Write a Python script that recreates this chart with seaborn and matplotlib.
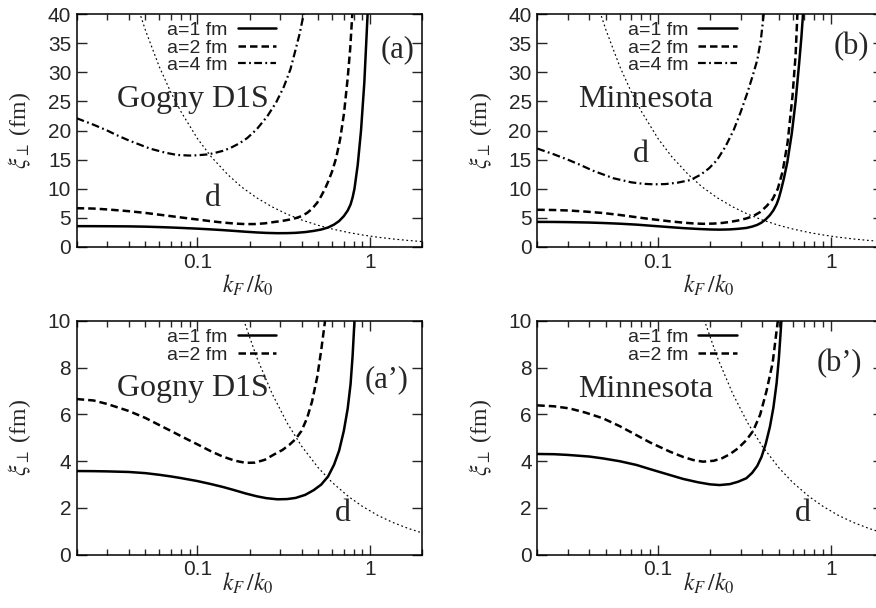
import numpy as np
import pandas as pd
import matplotlib
matplotlib.use("Agg")
import matplotlib.pyplot as plt
import seaborn as sns
from matplotlib.ticker import FixedLocator, FixedFormatter, NullFormatter

# ---------------- data ----------------
# Gogny D1S
g_a1_x = [0.02, 0.025, 0.03, 0.04, 0.05, 0.06, 0.07, 0.08, 0.1, 0.12, 0.14, 0.162, 0.19, 0.22, 0.25,
          0.29, 0.33, 0.37, 0.42, 0.47, 0.52, 0.57, 0.617, 0.66, 0.703, 0.74, 0.769, 0.79, 0.81,
          0.846, 0.884, 0.924, 0.965]
g_a1_y = [3.58, 3.575, 3.565, 3.54, 3.49, 3.42, 3.35, 3.28, 3.15, 3.02, 2.9, 2.77, 2.62, 2.5, 2.42,
          2.37, 2.38, 2.43, 2.56, 2.76, 3.0, 3.35, 3.85, 4.45, 5.3, 6.25, 7.3, 8.5, 10.0,
          14.1, 20.0, 28.3, 40.0]
g_a2_x = [0.02, 0.025, 0.03, 0.04, 0.05, 0.06, 0.07, 0.085, 0.1, 0.12, 0.14, 0.165, 0.19, 0.215, 0.245,
          0.276, 0.31, 0.34, 0.37, 0.4, 0.431, 0.46, 0.493, 0.52, 0.545, 0.57, 0.6, 0.635, 0.67,
          0.705, 0.74, 0.765, 0.787]
g_a2_y = [6.66, 6.6, 6.45, 6.15, 5.85, 5.55, 5.3, 4.98, 4.72, 4.42, 4.2, 4.02, 3.93, 3.94, 4.06,
          4.28, 4.48, 4.7, 4.95, 5.3, 5.85, 6.55, 7.6, 8.75, 9.9, 11.2, 12.9, 15.3, 18.6,
          23.0, 29.0, 34.0, 40.0]
g_a4_x = [0.02, 0.025, 0.03, 0.0341, 0.04, 0.047, 0.053, 0.065, 0.076, 0.09, 0.1, 0.115, 0.124, 0.14,
          0.155, 0.175, 0.194, 0.22, 0.253, 0.285, 0.316, 0.345, 0.369, 0.39, 0.412]
g_a4_y = [22.1, 21.0, 20.0, 19.2, 18.3, 17.5, 16.9, 16.2, 15.8, 15.7, 15.75, 15.9, 16.1, 16.5,
          17.0, 17.8, 18.7, 20.2, 22.4, 24.8, 27.5, 30.5, 33.8, 36.6, 40.0]

# Minnesota
m_a1_x = [0.02, 0.025, 0.03, 0.04, 0.048, 0.06, 0.075, 0.09, 0.117, 0.14, 0.17, 0.2, 0.227, 0.26,
          0.29, 0.324, 0.35, 0.375, 0.397, 0.42, 0.444, 0.465, 0.485, 0.5, 0.515, 0.535, 0.56,
          0.594, 0.625, 0.655, 0.675, 0.69]
m_a1_y = [4.31, 4.3, 4.27, 4.2, 4.12, 4.0, 3.84, 3.66, 3.41, 3.24, 3.1, 3.01, 2.98, 3.02,
          3.12, 3.27, 3.5, 3.8, 4.19, 4.75, 5.48, 6.3, 7.33, 8.4, 9.8, 11.8, 14.6,
          19.5, 25.0, 31.5, 36.0, 40.0]
m_a2_x = [0.02, 0.025, 0.0307, 0.038, 0.0478, 0.06, 0.0748, 0.09, 0.117, 0.14, 0.16, 0.182, 0.21,
          0.235, 0.26, 0.29, 0.324, 0.355, 0.39, 0.424, 0.46, 0.493, 0.526, 0.562, 0.6, 0.625, 0.64]
m_a2_y = [6.39, 6.35, 6.26, 6.08, 5.84, 5.5, 5.12, 4.8, 4.41, 4.18, 4.05, 3.98, 4.02,
          4.13, 4.3, 4.55, 4.9, 5.3, 6.0, 7.0, 8.2, 10.0, 13.0, 18.0, 26.0, 33.0, 40.0]
m_a4_x = [0.02, 0.025, 0.03, 0.0354, 0.042, 0.0552, 0.07, 0.082, 0.094, 0.11, 0.13, 0.154, 0.176,
          0.197, 0.219, 0.245, 0.274, 0.3, 0.328, 0.352, 0.375, 0.393, 0.409]
m_a4_y = [16.9, 15.9, 15.0, 14.1, 13.1, 11.8, 11.1, 10.85, 10.76, 10.8, 11.05, 11.5, 12.4,
          13.5, 14.9, 17.2, 20.1, 23.1, 26.4, 29.3, 32.1, 35.5, 40.0]

# interparticle distance d
d_x = [0.04, 0.045, 0.05, 0.06, 0.07, 0.08, 0.1, 0.12, 0.15, 0.18, 0.22, 0.27, 0.33, 0.4, 0.5, 0.6,
       0.75, 0.9, 1.1, 1.35, 1.65, 2.0]
d_y = [46.5, 41.3, 37.2, 31.0, 26.6, 23.3, 18.6, 15.5, 12.4, 10.3, 8.45, 6.9, 5.64, 4.65, 3.72, 3.1,
       2.48, 2.07, 1.69, 1.38, 1.13, 0.93]

legend_labels = ["a=1 fm", "a=2 fm", "a=4 fm"]
x_tick_values = [0.1, 1]
x_tick_labels = ["0.1", "1"]

# ---------------- style ----------------
sns.set_style("ticks", {"xtick.direction": "in", "ytick.direction": "in"})
plt.rcParams["font.family"] = ["Liberation Sans", "DejaVu Sans"]
plt.rcParams["mathtext.fontset"] = "stix"

W, H = 876, 608
fig = plt.figure(figsize=(W / 100, H / 100), dpi=100)

def add_ax(left_px, top_px, bottom_px, width_px=345.6):
    return fig.add_axes([left_px / W, 1 - bottom_px / H, width_px / W, (bottom_px - top_px) / H])

styles = [
    dict(lw=1.8, linestyle="-"),
    dict(lw=1.8, linestyle=(0, (3.0, 1.6))),
    dict(lw=1.6, linestyle=(0, (3.5, 1.5, 0.8, 1.5))),
]
d_style = dict(lw=0.85, linestyle=(0, (1.5, 2.3)))

def panel(ax, series, ymax, ystep, tag, tagpos, name, namepos, dpos, xlab_off):
    handles = []
    for (xs, ys), st in zip(series, styles):
        sns.lineplot(x=xs, y=ys, ax=ax, color="black", estimator=None, sort=False, **st)
        handles.append(ax.lines[-1])
    sns.lineplot(x=d_x, y=d_y, ax=ax, color="black", estimator=None, sort=False, **d_style)
    ax.set_xscale("log")
    ax.set_xlim(0.02, 2)
    ax.set_ylim(0, ymax)
    ax.set_yticks(np.arange(0, ymax + 0.01, ystep))
    ax.xaxis.set_major_locator(FixedLocator(x_tick_values))
    ax.xaxis.set_major_formatter(FixedFormatter(x_tick_labels))
    minors = [m * 10.0 ** e for e in (-2, -1, 0) for m in range(2, 10)]
    minors = [v for v in minors if 0.02 <= v <= 2.0001]
    ax.xaxis.set_minor_locator(FixedLocator(minors))
    ax.xaxis.set_minor_formatter(NullFormatter())
    ax.tick_params(which="both", direction="in", top=True, right=True, labelsize=15, pad=4, width=1)
    ax.tick_params(which="major", length=7)
    ax.tick_params(which="minor", length=4)
    for s in ax.spines.values():
        s.set_linewidth(1.1)
        s.set_color("black")
    ax.legend(handles, legend_labels[:len(series)], loc="upper right",
              bbox_to_anchor=(0.578, 0.968), frameon=False, markerfirst=False,
              fontsize=14, labelspacing=0.0, handlelength=2.0, handletextpad=0.5,
              borderpad=0, borderaxespad=0)
    ax.text(*tagpos, tag, transform=ax.transAxes, ha="center", va="center",
            fontsize=22, family="Liberation Serif")
    ax.text(*namepos, name, transform=ax.transAxes, ha="center", va="center",
            fontsize=23, family="Liberation Serif")
    ax.text(*dpos, "d", transform=ax.transAxes, ha="center", va="center",
            fontsize=23, family="Liberation Serif")
    ax.set_ylabel(r"$\xi_{\perp}$ (fm)", fontsize=17, family="Liberation Serif")
    ax.yaxis.set_label_coords(-0.164, 0.5)
    ax.yaxis.label.set_va("center")
    ax.set_xlabel(r"$k_{F}\,/k_{\mathit{0}}$", fontsize=17)
    ax.xaxis.set_label_coords(0.496, xlab_off)
    ax.xaxis.label.set_va("center")

ax_a = add_ax(76.7, 14, 247)
ax_b = add_ax(537.3, 14, 247)
ax_ap = add_ax(76.7, 321, 554.7)
ax_bp = add_ax(537.3, 321, 554.7)

panel(ax_a, [(g_a1_x, g_a1_y), (g_a2_x, g_a2_y), (g_a4_x, g_a4_y)], 40, 5,
      "(a)", (0.927, 0.845), "Gogny D1S", (0.337, 0.631), (0.395, 0.209), -0.163)
panel(ax_b, [(m_a1_x, m_a1_y), (m_a2_x, m_a2_y), (m_a4_x, m_a4_y)], 40, 5,
      "(b)", (0.908, 0.86), "Minnesota", (0.3125, 0.631), (0.30, 0.395), -0.163)
panel(ax_ap, [(g_a1_x, g_a1_y), (g_a2_x, g_a2_y)], 10, 2,
      "(a\u2019)", (0.897, 0.748), "Gogny D1S", (0.337, 0.712), (0.771, 0.177), -0.124)
panel(ax_bp, [(m_a1_x, m_a1_y), (m_a2_x, m_a2_y)], 10, 2,
      "(b\u2019)", (0.874, 0.819), "Minnesota", (0.3125, 0.706), (0.768, 0.177), -0.124)

fig.savefig("out.png", dpi=100, facecolor="white")
